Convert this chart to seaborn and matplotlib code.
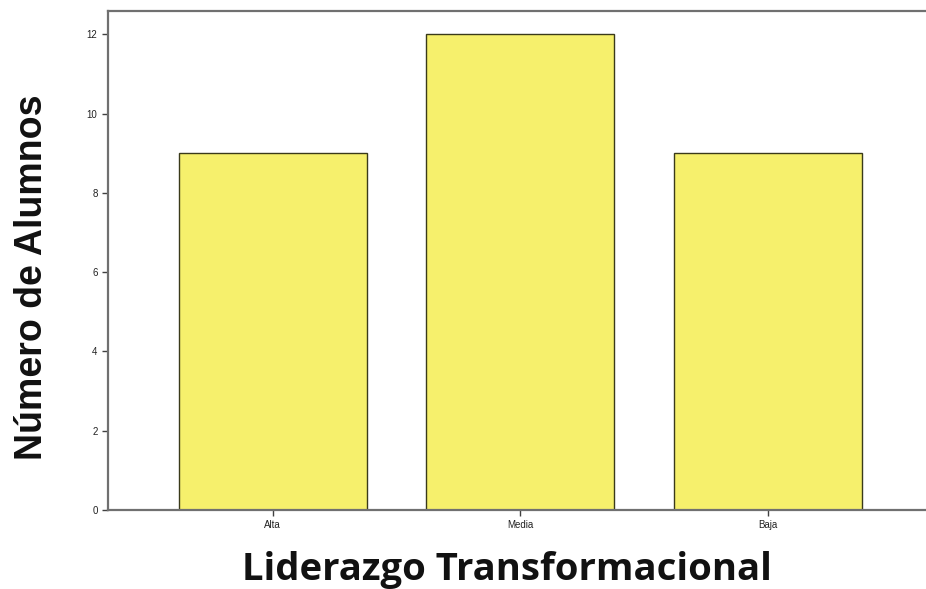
import seaborn as sns
import matplotlib.pyplot as plt
import pandas as pd

categorias = ["Alta", "Media", "Baja"]
alumnos = [9, 12, 9]
ticks_y = [0, 2, 4, 6, 8, 10, 12]

df = pd.DataFrame({"Nivel": categorias, "Alumnos": alumnos})

sns.set_style("white")
plt.rcParams['font.family'] = ['Liberation Sans', 'DejaVu Sans']

fig = plt.figure(figsize=(9.26, 5.89), dpi=100)
ax = fig.add_axes([0.1166, 0.134, 0.8834, 0.847])

sns.barplot(data=df, x="Nivel", y="Alumnos", color="#F6F06C", saturation=1,
            width=0.76, edgecolor="#3a3a1a", linewidth=1.0, ax=ax)

ax.set_ylim(0, 12.58)
ax.set_xlim(-0.665, 2.64)
ax.set_yticks(ticks_y)

for s in ["left", "top", "bottom"]:
    ax.spines[s].set_color("#707070")
    ax.spines[s].set_linewidth(1.6)
ax.spines["right"].set_visible(False)

ax.tick_params(axis="both", direction="out", length=4, width=1, color="#404040",
               labelsize=7, labelcolor="#222222", left=True, bottom=True)

# etiquetas de los ejes
ax.set_xlabel("Liderazgo Transformacional", fontsize=27.5, fontweight="bold",
              family="Open Sans", color="#111111", labelpad=15)
ax.xaxis.label.set_x(0.488)
ax.set_ylabel("Número de Alumnos", fontsize=27, fontweight="bold",
              color="#111111")
ax.yaxis.set_label_coords(-0.071, 0.467)

fig.savefig("out.png", dpi=100, facecolor="white")
